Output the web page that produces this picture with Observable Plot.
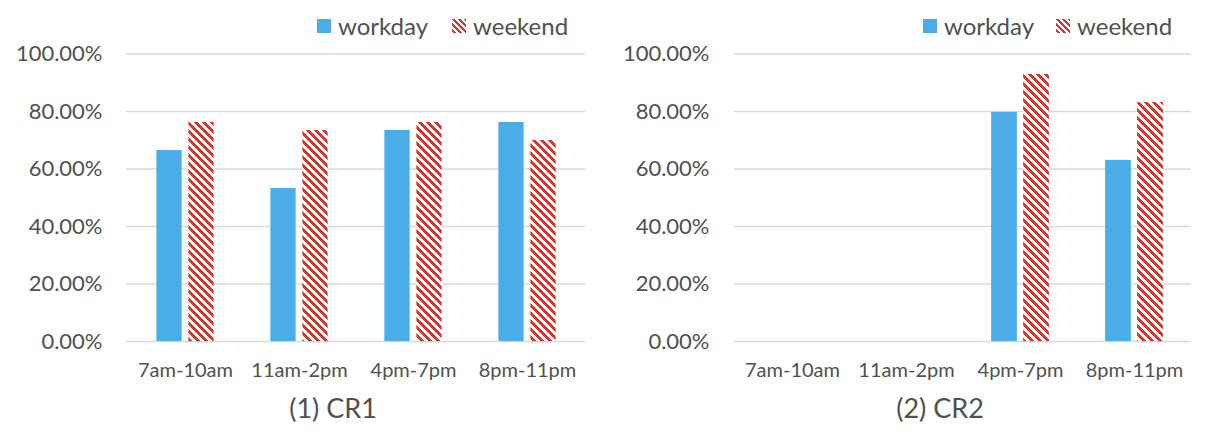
<!DOCTYPE html>
<html>
<head>
<meta charset="utf-8">
<script src="https://cdn.jsdelivr.net/npm/d3@7"></script>
<script src="https://cdn.jsdelivr.net/npm/@observablehq/plot@0.6"></script>
<style>
  html, body { margin: 0; padding: 0; background: #fff; }
  #root { position: relative; width: 1220px; height: 438px; overflow: hidden; font-family: Lato, "Open Sans", sans-serif; color: #505050; }
  .panel { position: absolute; top: 0; width: 610px; height: 438px; }
  .legend { position: absolute; top: 12px; display: flex; align-items: center; font-size: 24px; line-height: 28px; }
  .legend .item { display: flex; align-items: center; }
  .legend svg { display: block; margin-right: 7px; }
  .plotwrap { position: absolute; top: 40px; left: 0; }
  .caption { position: absolute; top: 391px; font-size: 27px; line-height: 34px; transform: translateX(-50%); white-space: nowrap; }
</style>
</head>
<body>
<div id="root"></div>
<script>
// ---- data ----
const categories = ["7am-10am", "11am-2pm", "4pm-7pm", "8pm-11pm"];
const seriesNames = ["workday", "weekend"];
const cr1Workday = [66.4, 53.2, 73.4, 76.2];
const cr1Weekend = [76.2, 73.4, 76.2, 69.9];
const cr2Workday = [null, null, 79.7, 63.0];
const cr2Weekend = [null, null, 92.9, 83.1];
const yTicks = [0, 20, 40, 60, 80, 100];
const captions = ["(1) CR1", "(2) CR2"];

const BLUE = "#4BADE7";
const RED = "#E5302A";
const GRID = "#D9D9D9";
const TEXT = "#505050";

function rows(values) {
  return categories.map((c, i) => ({cat: c, v: values[i]})).filter(d => d.v != null);
}

function hatchDefs(svgSel, id) {
  const p = svgSel.append("defs").append("pattern")
    .attr("id", id).attr("patternUnits", "userSpaceOnUse")
    .attr("width", 8).attr("height", 8);
  p.append("rect").attr("width", 8).attr("height", 8).attr("fill", "#fff");
  for (let y = 0; y < 8; y++) {
    p.append("rect").attr("x", y).attr("y", y).attr("width", 4).attr("height", 1)
      .attr("fill", RED).attr("shape-rendering", "crispEdges");
    p.append("rect").attr("x", y - 8).attr("y", y).attr("width", 4).attr("height", 1)
      .attr("fill", RED).attr("shape-rendering", "crispEdges");
  }
}

function legendSwatch(kind, id) {
  const s = d3.create("svg").attr("width", 14).attr("height", 14);
  if (kind === "solid") {
    s.append("rect").attr("width", 14).attr("height", 14).attr("fill", BLUE);
  } else {
    const p = s.append("defs").append("pattern")
      .attr("id", id).attr("patternUnits", "userSpaceOnUse")
      .attr("width", 6).attr("height", 6);
    for (let y = 0; y < 6; y++) {
      p.append("rect").attr("x", y).attr("y", y).attr("width", 3).attr("height", 1).attr("fill", RED).attr("shape-rendering", "crispEdges");
      p.append("rect").attr("x", y - 6).attr("y", y).attr("width", 3).attr("height", 1).attr("fill", RED).attr("shape-rendering", "crispEdges");
    }
    s.append("rect").attr("width", 14).attr("height", 14).attr("fill", `url(#${id})`);
  }
  return s.node();
}

const panels = [
  {left: 0, workday: cr1Workday, weekend: cr1Weekend, marginLeft: 126, marginRight: 25, tickPad: 24, legendX: 317, gap: 24, captionX: 333, caption: captions[0]},
  {left: 610, workday: cr2Workday, weekend: cr2Weekend, marginLeft: 124, marginRight: 29, tickPad: 25, legendX: 313, gap: 22, captionX: 330, caption: captions[1]}
];

const root = document.getElementById("root");

panels.forEach((pn, idx) => {
  const div = document.createElement("div");
  div.className = "panel";
  div.style.left = pn.left + "px";
  root.appendChild(div);

  // legend
  const lg = document.createElement("div");
  lg.className = "legend";
  lg.style.left = pn.legendX + "px";
  seriesNames.forEach((name, i) => {
    const it = document.createElement("div");
    it.className = "item";
    if (i > 0) it.style.marginLeft = pn.gap + "px";
    it.appendChild(legendSwatch(i === 0 ? "solid" : "hatch", "lgh" + idx));
    const t = document.createElement("span");
    t.textContent = name;
    it.appendChild(t);
    lg.appendChild(it);
  });
  div.appendChild(lg);

  const width = 610, height = 345;
  const bw = (width - pn.marginLeft - pn.marginRight) / categories.length;
  const barW = 26, gapW = 6;
  const outer = (bw - (2 * barW + gapW)) / 2;
  const hatchId = "hatch" + idx;

  const chart = Plot.plot({
    width, height,
    marginLeft: pn.marginLeft, marginRight: pn.marginRight,
    marginTop: 13.5, marginBottom: 44,
    style: {fontFamily: "Lato, 'Open Sans', sans-serif", color: TEXT, background: "transparent"},
    x: {domain: categories, padding: 0},
    y: {domain: [0, 100]},
    marks: [
      Plot.ruleY(yTicks, {stroke: GRID, strokeWidth: 1.5}),
      Plot.barY(rows(pn.workday), {x: "cat", y: "v", fill: BLUE, insetLeft: outer, insetRight: bw - outer - barW}),
      Plot.barY(rows(pn.weekend), {x: "cat", y: "v", fill: `url(#${hatchId})`, insetLeft: outer + barW + gapW, insetRight: outer}),
      Plot.axisX({label: null, tickSize: 0, tickPadding: 21, fontSize: 20}),
      Plot.axisY({ticks: yTicks, tickFormat: d => d.toFixed(2) + "%", label: null, tickSize: 0, tickPadding: pn.tickPad, fontSize: 22})
    ]
  });
  hatchDefs(d3.select(chart), hatchId);
  const wrap = document.createElement("div");
  wrap.className = "plotwrap";
  wrap.appendChild(chart);
  div.appendChild(wrap);

  const cap = document.createElement("div");
  cap.className = "caption";
  cap.style.left = pn.captionX + "px";
  cap.textContent = pn.caption;
  div.appendChild(cap);
});
</script>
</body>
</html>
